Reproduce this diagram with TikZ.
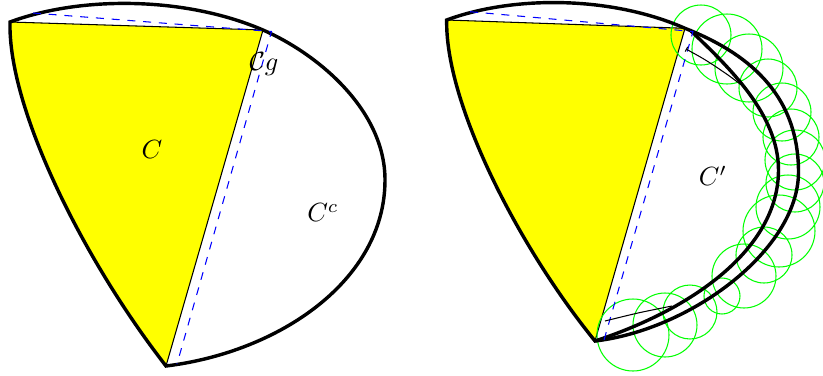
\documentclass[tikz,border=0pt]{standalone}
\usetikzlibrary{arrows.meta}
\definecolor{cyellow}{RGB}{255,255,0}
\definecolor{cgreen}{RGB}{0,255,0}
\definecolor{cblue}{RGB}{0,0,255}
\tikzset{
  bdry/.style={line width=1.3pt},
  offset/.style={cblue, dashed, thin},
  ball/.style={cgreen, thin},
}
\begin{document}
\begin{tikzpicture}[x=0.38pt, y=-0.38pt]
\useasboundingbox (0,0) rectangle (823,376);
% left picture
\coordinate (a) at (10,22);
\coordinate (b) at (263,30);
\coordinate (r) at (385,180);
\coordinate (d) at (166,366);
\coordinate (o1) at (33,13);
\coordinate (o2) at (271.5,31.5);
\coordinate (o3) at (177,364);
\fill[cyellow] (a) -- (b) -- (d) .. controls (85,262) and (8,110) .. (a) -- cycle;
\draw (a) -- (b) -- (d);
\draw[bdry] (a) .. controls (80,-4) and (184,-4) .. (b)
  .. controls (318,54) and (385,110) .. (r)
  .. controls (385,280) and (280,352) .. (d)
  .. controls (85,262) and (8,110) .. cycle;
\draw[offset] (o1) -- (o2) -- (o3);
\node (lc) at (152,150) {$C$};
\node (lcc) at (323,213) {$C^c$};
\node (lcg) at (264,64) {$\mathcal{C}g$};
% right picture
\coordinate (a2) at (446.7,20);
\coordinate (b2) at (685,28.3);
\coordinate (r2) at (798.5,172);
\coordinate (d2) at (595,341);
\coordinate (s2) at (690,30);
\coordinate (t2) at (778.5,170);
\coordinate (p1) at (470,11.7);
\coordinate (p2) at (693,31.5);
\coordinate (p3) at (604,340);
\fill[cyellow] (a2) -- (b2) -- (d2) .. controls (517.5,245.6) and (445.1,102.7) .. (a2) -- cycle;
\draw (a2) -- (b2) -- (d2);
\foreach \px/\py/\r in {701/35/30, 727/49/35, 749/68/34, 768/88/29, 782/112/29, 791/137/28, 795/160/30, 795/183/29, 788/207/32, 779/231/36, 764/255/28, 744/276/32, 722/296/18, 690/312/27, 665/325/32, 633/335/36}
  \draw[ball] (\px,\py) circle[radius=\r];
\draw[bdry] (a2) .. controls (512.8,-4.5) and (610.6,-4.5) .. (b2)
  .. controls (745,52) and (798.5,92) .. (r2)
  .. controls (798.5,250) and (690,330) .. (d2)
  .. controls (517.5,245.6) and (445.1,102.7) .. cycle;
\draw[bdry] (s2) .. controls (730,68) and (778.5,115) .. (t2)
  .. controls (778.5,250) and (690,310) .. (d2);
\draw[offset] (p1) -- (p2) -- (p3);
\draw[{Bar[width=2pt]}-] plot[smooth] coordinates {(686,49) (707,61) (728,75) (740,84)};
\draw plot[smooth] coordinates {(605,321) (638,313) (672,306)};
\node (lcp) at (713,176) {$C'$};
\end{tikzpicture}
\end{document}
